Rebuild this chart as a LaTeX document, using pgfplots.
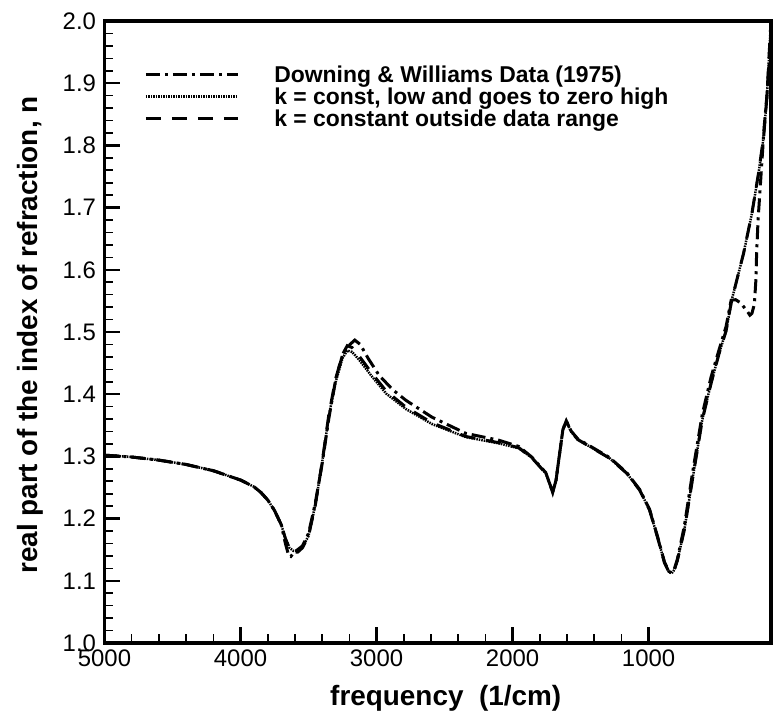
\documentclass[border=0pt]{standalone}
\usepackage{fontspec}
\setmainfont{Liberation Sans}
\usepackage{pgfplots}
\pgfplotsset{compat=1.18}

\pgfplotstableread{
x y
5000 1.302
4800 1.299
4600 1.294
4400 1.287
4200 1.277
4000 1.262
3900 1.251
3850 1.242
3800 1.230
3750 1.213
3700 1.190
3670 1.168
3640 1.152
3610 1.146
3580 1.146
3545 1.153
3500 1.172
3450 1.222
3400 1.290
3350 1.368
3300 1.425
3250 1.464
3215 1.478
3180 1.475
3127 1.461
3032 1.433
2929 1.405
2783 1.379
2592 1.354
2343 1.332
2101 1.322
1954 1.314
1859 1.298
1756 1.273
1720 1.252
1705 1.242
1680 1.262
1660 1.295
1630 1.343
1605 1.357
1570 1.340
1520 1.327
1410 1.313
1286 1.297
1161 1.273
1066 1.246
993 1.214
934 1.170
883 1.129
850 1.114
830 1.112
810 1.118
788 1.133
737 1.182
678 1.262
605 1.359
540 1.418
481 1.466
430 1.502
389 1.551
301 1.627
240 1.691
191 1.756
154 1.814
130 1.878
113 1.949
100 2.000
}\dashedtable

\pgfplotstableread{
x y
5000 1.302
4800 1.299
4600 1.294
4400 1.287
4200 1.277
4000 1.262
3900 1.251
3850 1.242
3800 1.230
3750 1.213
3700 1.190
3670 1.168
3640 1.153
3610 1.148
3580 1.148
3545 1.154
3500 1.172
3450 1.222
3400 1.290
3350 1.366
3300 1.420
3250 1.458
3215 1.470
3180 1.468
3127 1.455
3032 1.428
2929 1.401
2783 1.376
2592 1.352
2343 1.331
2101 1.321
1954 1.313
1859 1.298
1756 1.273
1720 1.252
1705 1.242
1680 1.262
1660 1.295
1630 1.343
1605 1.357
1570 1.340
1520 1.327
1410 1.313
1286 1.297
1161 1.273
1066 1.246
993 1.214
934 1.170
883 1.129
850 1.114
830 1.112
810 1.118
788 1.133
737 1.182
678 1.262
605 1.359
540 1.418
481 1.466
430 1.502
389 1.551
301 1.627
240 1.691
191 1.756
154 1.814
130 1.878
113 1.949
100 2.000
}\dottedtable

\pgfplotstableread{
x y
5000 1.302
4800 1.299
4600 1.294
4400 1.287
4200 1.277
4000 1.262
3900 1.251
3850 1.242
3800 1.230
3750 1.213
3700 1.190
3670 1.160
3645 1.140
3630 1.139
3610 1.145
3580 1.150
3545 1.156
3500 1.176
3450 1.225
3400 1.288
3350 1.362
3300 1.424
3250 1.463
3200 1.479
3160 1.487
3120 1.480
3060 1.457
2980 1.430
2880 1.407
2783 1.390
2592 1.363
2343 1.337
2101 1.326
1954 1.316
1859 1.299
1756 1.274
1720 1.252
1705 1.242
1680 1.262
1660 1.295
1630 1.343
1605 1.357
1570 1.341
1520 1.328
1410 1.314
1286 1.298
1161 1.274
1066 1.247
993 1.215
934 1.171
883 1.130
850 1.115
830 1.113
810 1.119
788 1.135
737 1.188
678 1.272
605 1.368
540 1.428
481 1.472
430 1.509
393 1.551
360 1.552
325 1.547
280 1.535
255 1.527
240 1.530
222 1.545
212 1.580
205 1.630
195 1.680
180 1.730
165 1.780
150 1.830
130 1.880
110 1.940
90 2.010
}\datatable

\begin{document}
\begin{tikzpicture}
\path[use as bounding box] (-104.5bp,-77bp) rectangle (670.5bp,643bp);
\begin{axis}[
  at={(0,0)}, anchor=south west,
  scale only axis, width=666.5bp, height=622bp,
  x dir=reverse,
  xmin=100, xmax=5000, ymin=1, ymax=2,
  clip mode=individual,
  xtick={1000,2000,3000,4000,5000},
  xticklabels={1000,2000,3000,4000,5000},
  minor x tick num=4,
  ytick={1.0,1.1,1.2,1.3,1.4,1.5,1.6,1.7,1.8,1.9,2.0},
  yticklabels={1.0,1.1,1.2,1.3,1.4,1.5,1.6,1.7,1.8,1.9,2.0},
  minor y tick num=4,
  xtick pos=bottom, ytick pos=left,
  tick align=inside,
  major tick length=16bp, minor tick length=9bp,
  every major tick/.append style={line width=2.5bp, black},
  every minor tick/.append style={line width=1.6bp, black},
  axis line style={line width=3.5bp, black},
  /pgf/number format/assume math mode=true,
  tick label style={font=\fontsize{24}{24}\selectfont, black},
  xticklabel style={yshift=-3bp},
  yticklabel style={xshift=-5bp},
  label style={font=\bfseries\fontsize{28}{28}\selectfont},
  xlabel={frequency\ \ (1/cm)},
  ylabel={real part of the index of refraction, n},
  xlabel style={at={(axis description cs:0.512,-0.0997)}, anchor=base},
  ylabel style={at={(axis description cs:-0.112,0.495)}, anchor=center},
  legend style={at={(axis description cs:0.055,0.935)}, anchor=north west,
    draw=none, fill=none, font=\bfseries\fontsize{23}{23}\selectfont,
    row sep=0bp},
  legend cell align=left,
  legend image code/.code={\draw[#1] (0bp,0bp) -- (92bp,0bp); \path (125bp,0bp);},
]
\addplot[black, line width=3bp, dash pattern=on 14bp off 5bp on 3bp off 5bp] table[x=x,y=y] {\datatable};
\addlegendentry{Downing \& Williams Data (1975)}
\addplot[black, line width=2.5bp, dash pattern=on 1.5bp off 1bp] table[x=x,y=y] {\dottedtable};
\addlegendentry{k = const, low and goes to zero high}
\addplot[black, line width=3bp, dash pattern=on 15bp off 11bp] table[x=x,y=y] {\dashedtable};
\addlegendentry{k = constant outside data range}
\draw[black, line width=3.5bp] (rel axis cs:0,1) -- (rel axis cs:1,1);
\draw[black, line width=3.5bp] (rel axis cs:1,0) -- (rel axis cs:1,1);
\end{axis}
\end{tikzpicture}
\end{document}
